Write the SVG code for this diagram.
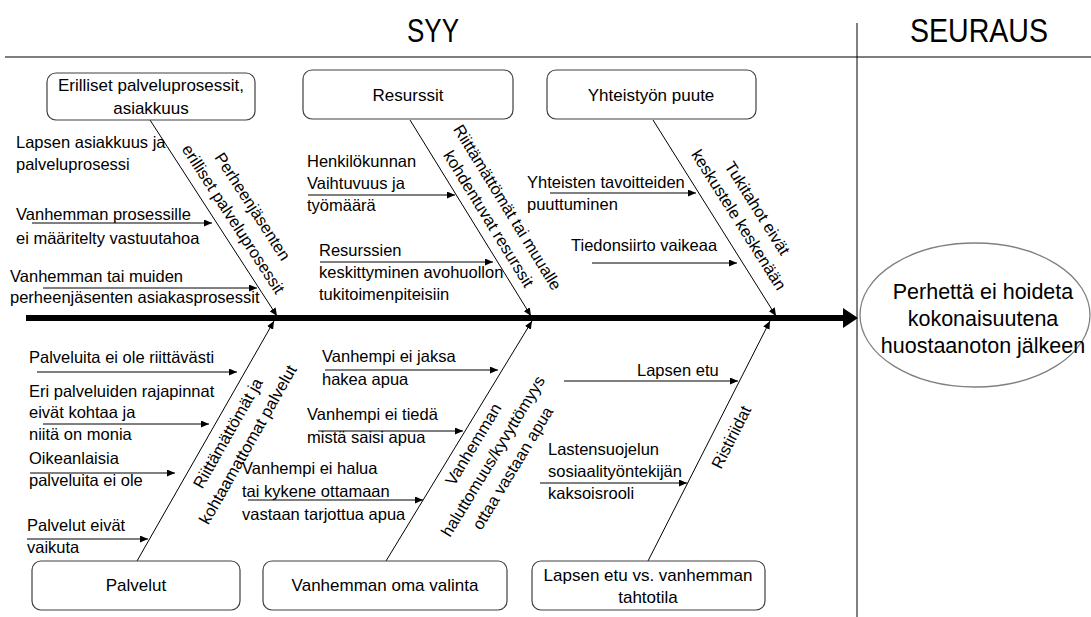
<svg xmlns="http://www.w3.org/2000/svg" width="1091" height="617" viewBox="0 0 1091 617">
<defs>
<marker id="ah" markerWidth="9" markerHeight="7" refX="8" refY="3.5" orient="auto" markerUnits="userSpaceOnUse">
<path d="M0,0 L8,3.5 L0,7 z" fill="#000"/>
</marker>
<style>
text{font-family:"Liberation Sans",Arial,sans-serif;font-size:16.5px;fill:#000}
.c{text-anchor:middle}
.title{font-size:33px}
.ell{font-size:21.5px}
.bl{font-size:17px}
.box{fill:#fff;stroke:#404040;stroke-width:1.2}
.bone{stroke:#000;stroke-width:1;fill:none;marker-end:url(#ah)}
.arr{stroke:#000;stroke-width:1;fill:none;marker-end:url(#ah)}
</style>
</defs>
<rect width="1091" height="617" fill="#fff"/>

<g id="frame">
<line x1="5" y1="57" x2="1091" y2="57" stroke="#7f7f7f" stroke-width="2"/>
<line x1="857" y1="23" x2="857" y2="617" stroke="#000" stroke-width="1"/>
<text class="title c" x="433" y="42" textLength="52" lengthAdjust="spacingAndGlyphs">SYY</text>
<text class="title c" x="979" y="42" textLength="138" lengthAdjust="spacingAndGlyphs">SEURAUS</text>
</g>

<g id="connectors">
<line x1="26" y1="318" x2="844" y2="318" stroke="#000" stroke-width="6"/>
<polygon points="843,308 858,318 843,328" fill="#000"/>
<line class="bone" x1="150" y1="120" x2="277" y2="316"/>
<line class="bone" x1="410" y1="120" x2="531" y2="316"/>
<line class="bone" x1="653" y1="120" x2="776" y2="316"/>
<line class="bone" x1="137" y1="561" x2="274" y2="321"/>
<line class="bone" x1="386" y1="561" x2="532" y2="321"/>
<line class="bone" x1="648" y1="561" x2="770" y2="321"/>
<line class="arr" x1="32" y1="223" x2="212" y2="223"/>
<line class="arr" x1="43" y1="288" x2="257" y2="288"/>
<line class="arr" x1="308" y1="195" x2="455" y2="195"/>
<line class="arr" x1="320" y1="262" x2="493" y2="262"/>
<line class="arr" x1="550" y1="193" x2="696" y2="193"/>
<line class="arr" x1="592" y1="263" x2="737" y2="263"/>
<line class="arr" x1="37" y1="372" x2="237" y2="372"/>
<line class="arr" x1="43" y1="424" x2="209" y2="424"/>
<line class="arr" x1="30" y1="473" x2="175" y2="473"/>
<line class="arr" x1="27" y1="539" x2="148" y2="539"/>
<line class="arr" x1="325" y1="370" x2="498" y2="370"/>
<line class="arr" x1="318" y1="431" x2="463" y2="431"/>
<line class="arr" x1="248" y1="500" x2="423" y2="500"/>
<line class="arr" x1="564" y1="381" x2="738" y2="381"/>
<line class="arr" x1="540" y1="483" x2="687" y2="483"/>
</g>

<g id="node-erilliset">
<rect class="box" x="47" y="73" width="208" height="47" rx="9"/>
<text class="c bl" x="151" y="91">Erilliset palveluprosessit,</text>
<text class="c bl" x="151" y="114">asiakkuus</text>
</g>
<g id="node-resurssit">
<rect class="box" x="303" y="70" width="210" height="49" rx="9"/>
<text class="c bl" x="408" y="101">Resurssit</text>
</g>
<g id="node-yhteistyo">
<rect class="box" x="547" y="70" width="209" height="49" rx="9"/>
<text class="c bl" x="651" y="101">Yhteistyön puute</text>
</g>
<g id="node-palvelut">
<rect class="box" x="32" y="561" width="208" height="49" rx="9"/>
<text class="c bl" x="136" y="591">Palvelut</text>
</g>
<g id="node-valinta">
<rect class="box" x="263" y="561" width="244" height="49" rx="9"/>
<text class="c bl" x="385" y="591">Vanhemman oma valinta</text>
</g>
<g id="node-lapsenetu">
<rect class="box" x="532" y="561" width="233" height="49" rx="9"/>
<text class="c bl" x="648" y="581">Lapsen etu vs. vanhemman</text>
<text class="c bl" x="648" y="603">tahtotila</text>
</g>
<g id="node-seuraus">
<ellipse cx="975" cy="315" rx="115" ry="72" fill="#fff" stroke="#808080" stroke-width="1.3"/>
<text class="ell c" x="983" y="299">Perhettä ei hoideta</text>
<text class="ell c" x="983" y="326">kokonaisuutena</text>
<text class="ell c" x="983" y="353">huostaanoton jälkeen</text>
</g>

<g id="labels-top-left">
<text x="16" y="148">Lapsen asiakkuus ja</text>
<text x="16" y="170">palveluprosessi</text>
<text x="16" y="220">Vanhemman prosessille</text>
<text x="16" y="244">ei määritelty vastuutahoa</text>
<text x="10" y="282">Vanhemman tai muiden</text>
<text x="10" y="303">perheenjäsenten  asiakasprosessit</text>
<g transform="translate(239.5,215) rotate(57)">
<text class="c" x="0" y="-10">Perheenjäsenten</text>
<text class="c" x="0" y="13">erilliset palveluprosessit</text>
</g>
</g>

<g id="labels-resurssit">
<text x="307" y="167">Henkilökunnan</text>
<text x="307" y="189">Vaihtuvuus ja</text>
<text x="307" y="211">työmäärä</text>
<text x="319" y="256">Resurssien</text>
<text x="319" y="278">keskittyminen avohuollon</text>
<text x="319" y="300">tukitoimenpiteisiin</text>
<g transform="translate(495,215) rotate(58.4)">
<text class="c" x="0" y="-9">Riittämättömät tai muualle</text>
<text class="c" x="0" y="13">kohdentuvat resurssit</text>
</g>
</g>

<g id="labels-yhteistyo">
<text x="527" y="188">Yhteisten tavoitteiden</text>
<text x="527" y="210">puuttuminen</text>
<text x="571" y="251">Tiedonsiirto vaikeaa</text>
<g transform="translate(745,216) rotate(57.7)">
<text class="c" x="0" y="-9">Tukitahot eivät</text>
<text class="c" x="0" y="13">keskustele keskenään</text>
</g>
</g>

<g id="labels-palvelut">
<text x="29" y="363">Palveluita ei ole riittävästi</text>
<text x="29" y="397">Eri palveluiden rajapinnat</text>
<text x="29" y="418">eivät kohtaa ja</text>
<text x="29" y="440">niitä on monia</text>
<text x="29" y="464">Oikeanlaisia</text>
<text x="29" y="486">palveluita ei ole</text>
<text x="27" y="531">Palvelut eivät</text>
<text x="27" y="553">vaikuta</text>
<g transform="translate(234.5,437) rotate(-60.4)">
<text class="c" x="0" y="-2">Riittämättömät ja</text>
<text class="c" x="0" y="21">kohtaamattomat palvelut</text>
</g>
</g>

<g id="labels-valinta">
<text x="322" y="362">Vanhempi ei jaksa</text>
<text x="322" y="385">hakea apua</text>
<text x="307" y="420">Vanhempi ei tiedä</text>
<text x="307" y="443">mistä saisi apua</text>
<text x="242" y="474">Vanhempi ei halua</text>
<text x="242" y="497">tai kykene ottamaan</text>
<text x="242" y="520">vastaan tarjottua apua</text>
<g transform="translate(491,455) rotate(-58.8)">
<text class="c" x="0" y="-15">Vanhemman</text>
<text class="c" x="0" y="8">haluttomuus/kyvyttömyys</text>
<text class="c" x="0" y="31">ottaa vastaan apua</text>
</g>
</g>

<g id="labels-ristiriidat">
<text x="637" y="376">Lapsen etu</text>
<text x="548" y="455">Lastensuojelun</text>
<text x="548" y="477">sosiaalityöntekijän</text>
<text x="548" y="499">kaksoisrooli</text>
<g transform="translate(731,437) rotate(-63.2)">
<text class="c" x="0" y="6">Ristiriidat</text>
</g>
</g>
</svg>
